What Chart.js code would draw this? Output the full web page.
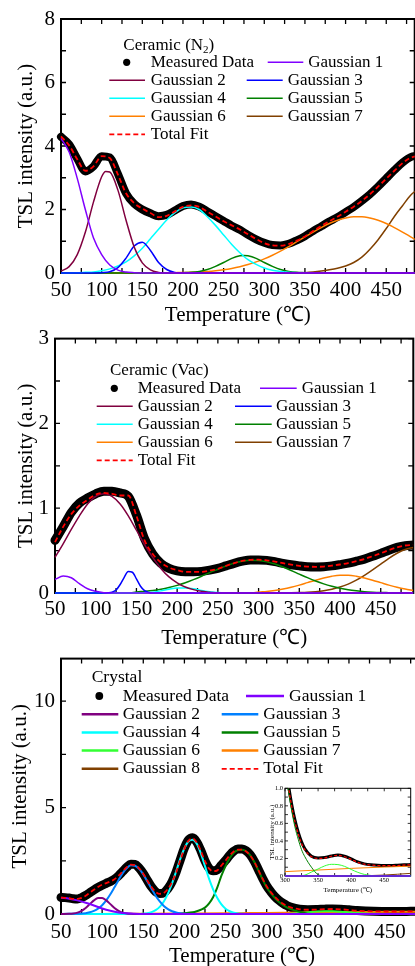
<!DOCTYPE html>
<html>
<head>
<meta charset="utf-8">
<script src="https://cdn.jsdelivr.net/npm/chart.js@4"></script>
<style>
html, body { margin: 0; padding: 0; background: #fff; overflow: hidden; }
body { width: 415px; height: 966px; position: relative; }
canvas { position: absolute; }
</style>
</head>
<body>
<canvas id="n2" width="440" height="330" style="left:0;top:0"></canvas>
<canvas id="vac" width="440" height="335" style="left:0;top:320px"></canvas>
<canvas id="crystal" width="440" height="335" style="left:0;top:640px"></canvas>
<canvas id="inset" width="165" height="125" style="left:255px;top:775px"></canvas>
<script>
// temperature grid (°C) shared by the two ceramic panels
var temp10 = [50, 60, 70, 80, 90, 100, 110, 120, 130, 140, 150, 160, 170, 180, 190, 200, 210, 220, 230, 240, 250, 260, 270, 280, 290, 300, 310, 320, 330, 340, 350, 360, 370, 380, 390, 400, 410, 420, 430, 440, 450, 460, 470, 480, 490];

// Ceramic (N2)
var n2Measured = [4.29, 4.05, 3.6, 3.2, 3.36, 3.68, 3.64, 3.12, 2.51, 2.18, 2.0, 1.88, 1.79, 1.83, 1.97, 2.11, 2.16, 2.09, 1.94, 1.79, 1.64, 1.49, 1.36, 1.2, 1.06, 0.95, 0.88, 0.87, 0.92, 1.03, 1.16, 1.32, 1.47, 1.62, 1.76, 1.92, 2.08, 2.27, 2.48, 2.72, 2.98, 3.24, 3.48, 3.65, 3.7];
var n2Fit = [4.3, 4.02, 3.58, 3.22, 3.36, 3.68, 3.62, 3.1, 2.51, 2.2, 2.03, 1.89, 1.76, 1.8, 1.94, 2.08, 2.13, 2.08, 1.93, 1.78, 1.63, 1.5, 1.37, 1.22, 1.07, 0.94, 0.87, 0.86, 0.91, 1.02, 1.15, 1.32, 1.48, 1.63, 1.77, 1.93, 2.09, 2.27, 2.48, 2.72, 2.97, 3.22, 3.46, 3.63, 3.69];
var n2G1T = [50, 60, 70, 80, 90, 100, 110, 120, 130, 140, 150, 490];
var n2G1 = [4.24, 3.81, 2.98, 1.99, 1.1, 0.58, 0.25, 0.09, 0.03, 0.01, 0, 0];
var n2G2T = [50, 60, 70, 80, 90, 100, 105, 110, 120, 130, 140, 150, 160, 170, 180, 490];
var n2G2 = [0.06, 0.2, 0.58, 1.29, 2.24, 3.03, 3.2, 3.18, 2.61, 1.66, 0.82, 0.32, 0.1, 0.02, 0, 0];
var n2G3T = [50, 90, 100, 110, 120, 130, 140, 150, 160, 170, 180, 190, 200, 490];
var n2G3 = [0, 0, 0.01, 0.04, 0.17, 0.47, 0.85, 0.97, 0.71, 0.33, 0.11, 0.02, 0, 0];
var n2G4T = [50, 70, 80, 90, 100, 110, 120, 130, 140, 150, 160, 170, 180, 190, 200, 210, 220, 230, 240, 250, 260, 270, 280, 290, 300, 310, 320, 330, 340, 350, 490];
var n2G4 = [0, 0.01, 0.02, 0.03, 0.07, 0.13, 0.22, 0.35, 0.54, 0.78, 1.08, 1.38, 1.67, 1.9, 2.05, 2.08, 2.0, 1.77, 1.5, 1.2, 0.9, 0.64, 0.42, 0.27, 0.16, 0.09, 0.05, 0.02, 0.01, 0, 0];
var n2G5T = [50, 190, 200, 210, 220, 230, 240, 250, 260, 270, 275, 280, 290, 300, 310, 320, 330, 340, 350, 360, 490];
var n2G5 = [0, 0, 0.01, 0.02, 0.05, 0.11, 0.21, 0.33, 0.46, 0.54, 0.55, 0.54, 0.46, 0.33, 0.21, 0.11, 0.05, 0.02, 0.01, 0, 0];
var n2G6T = [50, 140, 150, 160, 170, 180, 190, 200, 210, 220, 230, 240, 250, 260, 270, 280, 290, 300, 310, 320, 330, 340, 350, 360, 370, 380, 390, 400, 410, 420, 430, 440, 450, 460, 470, 480, 490];
var n2G6 = [0, 0, 0.002, 0.004, 0.006, 0.008, 0.011, 0.014, 0.022, 0.034, 0.05, 0.073, 0.104, 0.145, 0.198, 0.265, 0.35, 0.446, 0.56, 0.69, 0.83, 0.985, 1.14, 1.29, 1.43, 1.56, 1.66, 1.73, 1.77, 1.77, 1.73, 1.66, 1.56, 1.43, 1.29, 1.14, 0.99];
var n2G7T = [50, 340, 350, 360, 370, 380, 390, 400, 410, 420, 430, 440, 450, 460, 470, 480, 490];
var n2G7 = [0, 0, 0.01, 0.03, 0.06, 0.1, 0.15, 0.22, 0.33, 0.5, 0.75, 1.05, 1.4, 1.78, 2.12, 2.45, 2.66];

// Ceramic (Vac)
var vacMeasured = [0.62, 0.78, 0.95, 1.06, 1.12, 1.17, 1.2, 1.2, 1.18, 1.14, 0.92, 0.64, 0.46, 0.35, 0.29, 0.26, 0.25, 0.25, 0.255, 0.27, 0.29, 0.32, 0.35, 0.375, 0.39, 0.39, 0.385, 0.37, 0.35, 0.333, 0.32, 0.31, 0.308, 0.31, 0.32, 0.335, 0.352, 0.375, 0.4, 0.433, 0.467, 0.505, 0.537, 0.558, 0.566];
var vacFit = [0.6, 0.78, 0.93, 1.03, 1.1, 1.16, 1.18, 1.17, 1.15, 1.15, 0.91, 0.62, 0.46, 0.36, 0.3, 0.27, 0.25, 0.25, 0.25, 0.265, 0.285, 0.32, 0.352, 0.38, 0.39, 0.393, 0.385, 0.371, 0.352, 0.335, 0.32, 0.312, 0.309, 0.312, 0.323, 0.336, 0.353, 0.375, 0.4, 0.434, 0.468, 0.506, 0.538, 0.56, 0.567];
var vacG1T = [50, 60, 70, 80, 90, 100, 110, 120, 490];
var vacG1 = [0.16, 0.2, 0.18, 0.11, 0.05, 0.02, 0.004, 0, 0];
var vacG2T = [50, 60, 70, 80, 90, 100, 110, 120, 130, 140, 150, 160, 170, 180, 190, 200, 210, 220, 230, 240, 250, 490];
var vacG2 = [0.42, 0.58, 0.75, 0.91, 1.05, 1.14, 1.17, 1.14, 1.05, 0.91, 0.74, 0.57, 0.42, 0.29, 0.19, 0.12, 0.07, 0.04, 0.02, 0.01, 0, 0];
var vacG3T = [50, 110, 115, 120, 125, 130, 135, 140, 145, 150, 155, 160, 165, 170, 490];
var vacG3 = [0, 0, 0.002, 0.009, 0.035, 0.1, 0.185, 0.253, 0.245, 0.167, 0.08, 0.028, 0.007, 0.001, 0];
var vacG4T = [50, 150, 160, 170, 180, 190, 200, 210, 220, 230, 240, 250, 260, 270, 490];
var vacG4 = [0, 0, 0.003, 0.01, 0.025, 0.045, 0.06, 0.06, 0.05, 0.03, 0.015, 0.005, 0.001, 0, 0];
var vacG5T = [50, 140, 150, 160, 170, 180, 190, 200, 210, 220, 230, 240, 250, 260, 270, 280, 290, 300, 310, 320, 330, 340, 350, 360, 370, 380, 390, 400, 410, 420, 430, 440, 450, 460, 470, 480, 490];
var vacG5 = [0, 0, 0.012, 0.02, 0.03, 0.045, 0.065, 0.09, 0.121, 0.158, 0.198, 0.24, 0.28, 0.32, 0.352, 0.374, 0.385, 0.382, 0.367, 0.341, 0.306, 0.266, 0.223, 0.181, 0.142, 0.108, 0.08, 0.057, 0.039, 0.026, 0.016, 0.01, 0.006, 0.004, 0.002, 0.001, 0];
var vacG6T = [50, 290, 300, 310, 320, 330, 340, 350, 360, 370, 380, 390, 400, 410, 420, 430, 440, 450, 460, 470, 480, 490];
var vacG6 = [0, 0, 0.011, 0.018, 0.03, 0.046, 0.067, 0.093, 0.122, 0.151, 0.177, 0.198, 0.209, 0.209, 0.198, 0.177, 0.151, 0.122, 0.093, 0.067, 0.046, 0.03];
var vacG7T = [50, 330, 340, 350, 360, 370, 380, 390, 400, 410, 420, 430, 440, 450, 460, 470, 480, 490];
var vacG7 = [0, 0, 0.002, 0.005, 0.009, 0.016, 0.027, 0.045, 0.07, 0.105, 0.151, 0.208, 0.273, 0.34, 0.409, 0.469, 0.513, 0.537];

// Crystal
var crysTemp = [50, 55, 60, 65, 70, 75, 80, 85, 90, 95, 100, 105, 110, 115, 120, 125, 130, 135, 140, 145, 150, 155, 160, 165, 170, 175, 180, 185, 190, 195, 200, 205, 210, 215, 220, 225, 230, 235, 240, 245, 250, 255, 260, 265, 270, 275, 280, 285, 290, 295, 300, 305, 310, 315, 320, 325, 330, 340, 350, 360, 370, 380, 390, 400, 410, 420, 430, 440, 450, 460, 470, 480, 490];
var crysMeasured = [0.78, 0.77, 0.75, 0.72, 0.71, 0.77, 0.87, 1.0, 1.13, 1.25, 1.35, 1.44, 1.53, 1.64, 1.8, 2.0, 2.2, 2.34, 2.33, 2.16, 1.9, 1.58, 1.27, 1.05, 0.96, 1.0, 1.2, 1.52, 1.98, 2.55, 3.1, 3.48, 3.58, 3.38, 2.98, 2.5, 2.15, 2.03, 2.08, 2.3, 2.52, 2.76, 2.95, 3.05, 3.05, 2.97, 2.78, 2.47, 2.08, 1.68, 1.32, 1.05, 0.82, 0.64, 0.5, 0.39, 0.31, 0.225, 0.205, 0.21, 0.228, 0.24, 0.225, 0.195, 0.16, 0.138, 0.127, 0.122, 0.12, 0.12, 0.123, 0.127, 0.13];
var crysFit = [0.77, 0.76, 0.74, 0.71, 0.71, 0.76, 0.86, 1.0, 1.14, 1.27, 1.38, 1.45, 1.53, 1.63, 1.8, 2.0, 2.2, 2.32, 2.3, 2.14, 1.89, 1.57, 1.27, 1.04, 0.95, 0.99, 1.18, 1.5, 1.96, 2.53, 3.07, 3.44, 3.55, 3.36, 2.96, 2.48, 2.13, 2.01, 2.05, 2.28, 2.51, 2.75, 2.94, 3.02, 3.02, 2.94, 2.75, 2.45, 2.06, 1.66, 1.3, 1.03, 0.8, 0.62, 0.48, 0.37, 0.3, 0.22, 0.2, 0.205, 0.225, 0.235, 0.22, 0.19, 0.155, 0.135, 0.125, 0.12, 0.118, 0.118, 0.12, 0.125, 0.128];
var crysG1T = [50, 60, 70, 80, 90, 100, 110, 120, 130, 140, 150, 490];
var crysG1 = [0.76, 0.72, 0.64, 0.53, 0.4, 0.26, 0.15, 0.07, 0.03, 0.01, 0, 0];
var crysG2T = [50, 60, 65, 70, 75, 80, 85, 90, 95, 100, 105, 110, 115, 120, 125, 130, 135, 140, 490];
var crysG2 = [0, 0.008, 0.025, 0.066, 0.149, 0.285, 0.464, 0.641, 0.755, 0.755, 0.641, 0.464, 0.285, 0.149, 0.066, 0.025, 0.008, 0, 0];
var crysG3T = [50, 80, 85, 90, 95, 100, 105, 110, 115, 120, 125, 130, 135, 140, 145, 150, 155, 160, 165, 170, 175, 180, 185, 190, 195, 200, 210, 490];
var crysG3 = [0, 0.04, 0.078, 0.145, 0.254, 0.415, 0.64, 0.925, 1.256, 1.6, 1.92, 2.16, 2.29, 2.27, 2.12, 1.86, 1.53, 1.19, 0.86, 0.59, 0.378, 0.228, 0.129, 0.069, 0.034, 0.016, 0, 0];
var crysG4T = [50, 145, 150, 155, 160, 165, 170, 175, 180, 185, 190, 195, 200, 205, 210, 215, 220, 225, 230, 235, 240, 245, 250, 255, 260, 265, 270, 280, 490];
var crysG4 = [0, 0, 0.016, 0.039, 0.087, 0.178, 0.337, 0.591, 0.959, 1.44, 2.01, 2.59, 3.09, 3.42, 3.49, 3.3, 2.85, 2.25, 1.65, 1.15, 0.75, 0.45, 0.25, 0.13, 0.06, 0.025, 0.01, 0, 0];
var crysG5T = [50, 180, 190, 200, 210, 215, 220, 225, 230, 235, 240, 245, 250, 255, 260, 265, 270, 275, 280, 285, 290, 295, 300, 305, 310, 315, 320, 325, 330, 340, 350, 360, 490];
var crysG5 = [0, 0, 0.01, 0.04, 0.08, 0.13, 0.2, 0.3, 0.5, 0.8, 1.25, 1.8, 2.25, 2.62, 2.88, 3.0, 3.02, 2.95, 2.76, 2.44, 2.04, 1.63, 1.25, 0.98, 0.75, 0.56, 0.42, 0.3, 0.22, 0.1, 0.015, 0, 0];
var crysG6T = [50, 320, 330, 340, 350, 360, 370, 380, 390, 400, 410, 420, 430, 440, 490];
var crysG6 = [0, 0, 0.01, 0.045, 0.08, 0.115, 0.133, 0.13, 0.11, 0.075, 0.042, 0.018, 0.006, 0, 0];
var crysG7T = [50, 100, 150, 200, 250, 300, 350, 400, 450, 490];
var crysG7 = [0, 0.005, 0.01, 0.02, 0.032, 0.05, 0.068, 0.087, 0.102, 0.112];
var crysG8T = [50, 410, 430, 450, 470, 490];
var crysG8 = [0, 0, 0.005, 0.011, 0.02, 0.03];

var ceramicColors = ['#8000ff', '#80003f', '#0000ff', '#00ffff', '#008000', '#ff8000', '#804000'];
var crystalColors = ['#8000ff', '#800080', '#0080ff', '#00ffff', '#008000', '#33ff33', '#ff8000', '#804000'];

Chart.defaults.font.family = '"Liberation Serif", "Times New Roman", serif';
Chart.defaults.color = '#000';

function pts(xs, ys) {
  return xs.map(function (x, i) { return { x: x, y: ys[i] }; });
}

function framePlugin(f) {
  return {
    id: 'frame',
    beforeDatasetsDraw: function (chart) {
      var ctx = chart.ctx, a = chart.chartArea, x = chart.scales.x, y = chart.scales.y;
      ctx.save();
      if (f.fill) {
        ctx.fillStyle = f.fill;
        ctx.fillRect(a.left, a.top, a.right - a.left, a.bottom - a.top);
      }
      ctx.strokeStyle = '#000';
      ctx.lineWidth = f.tickWidth;
      ctx.beginPath();
      for (var v = x.min; v <= x.max + 1e-6; v += f.xMinor) {
        var px = x.getPixelForValue(v);
        ctx.moveTo(px, a.bottom); ctx.lineTo(px, a.bottom - f.len);
        ctx.moveTo(px, a.top); ctx.lineTo(px, a.top + f.len);
      }
      for (var w = y.min; w <= y.max + 1e-6; w += f.yMinor) {
        var py = y.getPixelForValue(w);
        ctx.moveTo(a.left, py); ctx.lineTo(a.left + f.len, py);
        ctx.moveTo(a.right, py); ctx.lineTo(a.right - f.len, py);
      }
      ctx.stroke();
      ctx.lineWidth = f.width;
      ctx.strokeRect(a.left, a.top, a.right - a.left, a.bottom - a.top);
      ctx.restore();
    }
  };
}

function legendPlugin(L) {
  return {
    id: 'gridLegend',
    afterDatasetsDraw: function (chart) {
      var ctx = chart.ctx;
      var font = L.size + 'px "Liberation Serif"';
      ctx.save();
      ctx.textBaseline = 'middle';
      ctx.fillStyle = '#000';
      ctx.font = font;
      ctx.fillText(L.title, L.titleX, L.titleY);
      if (L.sub) {
        var tx = L.titleX + ctx.measureText(L.title).width;
        ctx.font = Math.round(L.size * 0.65) + 'px "Liberation Serif"';
        ctx.fillText(L.sub, tx, L.titleY + L.size * 0.28);
        tx += ctx.measureText(L.sub).width;
        ctx.font = font;
        ctx.fillText(L.tail, tx, L.titleY);
      }
      chart.data.datasets.forEach(function (ds, k) {
        var row = Math.floor(k / 2), col = k % 2;
        var yy = L.rowY + row * L.rowH;
        var spot = col === 0 ? L.col1 : (row === 0 ? L.row1col2 : L.col2);
        if (ds.dot) {
          ctx.beginPath();
          ctx.fillStyle = '#000';
          ctx.arc(L.dotX, yy, L.dotR, 0, Math.PI * 2);
          ctx.fill();
        } else {
          ctx.beginPath();
          ctx.setLineDash(ds.borderDash || []);
          ctx.strokeStyle = ds.borderColor;
          ctx.lineWidth = ds.borderDash ? 1.8 : L.lineWidth;
          ctx.moveTo(spot[0], yy);
          ctx.lineTo(spot[1], yy);
          ctx.stroke();
          ctx.setLineDash([]);
        }
        ctx.fillStyle = '#000';
        ctx.font = font;
        ctx.fillText(ds.label, spot[2], yy);
      });
      ctx.restore();
    }
  };
}

function axes(a) {
  return {
    x: {
      type: 'linear', min: a.xMin, max: a.xMax,
      afterFit: function (s) { s.height = a.xHeight; },
      grid: { display: false, drawTicks: false },
      border: { display: false },
      ticks: { stepSize: 50, includeBounds: false, autoSkip: false, maxRotation: 0, padding: a.xPad, font: { size: a.tickFs } },
      title: { display: true, text: 'Temperature (℃)', font: { size: a.titleFs }, padding: { top: 0, bottom: a.xTitlePad } }
    },
    y: {
      type: 'linear', min: 0, max: a.yMax,
      afterFit: function (s) { s.width = a.yWidth; },
      grid: { display: false, drawTicks: false },
      border: { display: false },
      ticks: { stepSize: a.yStep, includeBounds: false, padding: a.yPad, font: { size: a.tickFs } },
      title: { display: true, text: 'TSL intensity (a.u.)', font: { size: a.titleFs }, padding: { top: a.yTitlePad, bottom: 0 } }
    }
  };
}

function buildSets(p, st) {
  var common = { pointRadius: 0, cubicInterpolationMode: 'monotone', clip: st.clip };
  var sets = [Object.assign({ label: 'Measured Data', dot: true, data: pts(p.temp, p.measured), borderColor: '#000', borderWidth: st.dataWidth, borderCapStyle: 'round', borderJoinStyle: 'round', order: 3 }, common)];
  p.gauss.forEach(function (g, i) {
    sets.push(Object.assign({ label: 'Gaussian ' + (i + 1), data: pts(g[0], g[1]), borderColor: p.colors[i], borderWidth: st.gaussWidth, order: 2 }, common));
  });
  sets.push(Object.assign({ label: 'Total Fit', data: pts(p.temp, p.fit), borderColor: '#ff0000', borderWidth: st.fitWidth, borderDash: st.dash, order: 1 }, common));
  return sets;
}

function makeChart(id, p, st, a, pad, frame, legend) {
  var plugins = [framePlugin(frame)];
  if (legend) plugins.push(legendPlugin(legend));
  return new Chart(document.getElementById(id), {
    type: 'line',
    data: { datasets: buildSets(p, st) },
    options: {
      responsive: false,
      animation: false,
      events: [],
      layout: { padding: pad },
      plugins: { legend: { display: false }, tooltip: { enabled: false } },
      scales: axes(a)
    },
    plugins: plugins
  });
}

var n2 = { temp: temp10, measured: n2Measured, fit: n2Fit, colors: ceramicColors,
  gauss: [[n2G1T, n2G1], [n2G2T, n2G2], [n2G3T, n2G3], [n2G4T, n2G4], [n2G5T, n2G5], [n2G6T, n2G6], [n2G7T, n2G7]] };
var vac = { temp: temp10, measured: vacMeasured, fit: vacFit, colors: ceramicColors,
  gauss: [[vacG1T, vacG1], [vacG2T, vacG2], [vacG3T, vacG3], [vacG4T, vacG4], [vacG5T, vacG5], [vacG6T, vacG6], [vacG7T, vacG7]] };
var crystal = { temp: crysTemp, measured: crysMeasured, fit: crysFit, colors: crystalColors,
  gauss: [[crysG1T, crysG1], [crysG2T, crysG2], [crysG3T, crysG3], [crysG4T, crysG4], [crysG5T, crysG5], [crysG6T, crysG6], [crysG7T, crysG7], [crysG8T, crysG8]] };

var mainClip = { left: 5, top: 0, right: 0, bottom: 5 };
var mainFrame = { width: 2, tickWidth: 1.3, len: 5, xMinor: 25 };

makeChart('n2', n2,
  { dataWidth: 8, gaussWidth: 1.5, fitWidth: 1.8, dash: [5, 3], clip: mainClip },
  { xMin: 50, xMax: 485, yMax: 8, yStep: 2, xHeight: 57, yWidth: 61, xPad: 4.4, yPad: 6, xTitlePad: 2.4, yTitlePad: 13.4, tickFs: 21, titleFs: 21 },
  { left: 0, top: 19, right: 25.3, bottom: 0 },
  Object.assign({ yMinor: 1 }, mainFrame),
  { title: 'Ceramic (N', sub: '2', tail: ')', titleX: 123.3, titleY: 45.5, rowY: 62.3, rowH: 18, dotX: 126.7, dotR: 3.6, size: 17, lineWidth: 1.5,
    col1: [109.3, 145, 150.7], row1col2: [267.7, 303.3, 308.3], col2: [246.7, 282.7, 287.7] });

makeChart('vac', vac,
  { dataWidth: 9, gaussWidth: 1.5, fitWidth: 1.8, dash: [5, 3], clip: mainClip },
  { xMin: 50, xMax: 490, yMax: 3, yStep: 1, xHeight: 62, yWidth: 55, xPad: 3.4, yPad: 6, xTitlePad: 3.9, yTitlePad: 14.1, tickFs: 21, titleFs: 21 },
  { left: 0, top: 17, right: 26.7, bottom: 0 },
  Object.assign({ yMinor: 0.5 }, mainFrame),
  { title: 'Ceramic (Vac)', titleX: 110, titleY: 50.5, rowY: 68.3, rowH: 18, dotX: 114.3, dotR: 3.6, size: 17, lineWidth: 1.5,
    col1: [96.7, 132.7, 137.7], row1col2: [260, 296.7, 301.7], col2: [235, 271.7, 276] });

makeChart('crystal', crystal,
  { dataWidth: 9, gaussWidth: 2, fitWidth: 1.8, dash: [5, 3], clip: mainClip },
  { xMin: 50, xMax: 490, yMax: 12, yStep: 5, xHeight: 61, yWidth: 61, xPad: 5.9, yPad: 6, xTitlePad: 5.9, yTitlePad: 7.4, tickFs: 21, titleFs: 21 },
  { left: 0, top: 14, right: 17, bottom: 0 },
  Object.assign({ yMinor: 2.5 }, mainFrame),
  { title: 'Crystal', titleX: 91.7, titleY: 37.5, rowY: 56, rowH: 18.2, dotX: 99.3, dotR: 3.9, size: 17.5, lineWidth: 2.5,
    col1: [81.7, 118.3, 122.7], row1col2: [246, 284, 289], col2: [221.7, 258.3, 263.3] });

makeChart('inset', crystal,
  { dataWidth: 3, gaussWidth: 1, fitWidth: 1.2, dash: [3, 2], clip: { left: 0, top: 0, right: 0, bottom: 1 } },
  { xMin: 300, xMax: 490, yMax: 1, yStep: 0.2, xHeight: 24, yWidth: 30, xPad: 0.5, yPad: 2, xTitlePad: 5.8, yTitlePad: 12.8, tickFs: 6.5, titleFs: 7 },
  { left: 0, top: 13.3, right: 9.3, bottom: 0 },
  { fill: '#fff', width: 1, tickWidth: 0.8, len: 3, xMinor: 25, yMinor: 0.1 },
  null);
</script>
</body>
</html>
